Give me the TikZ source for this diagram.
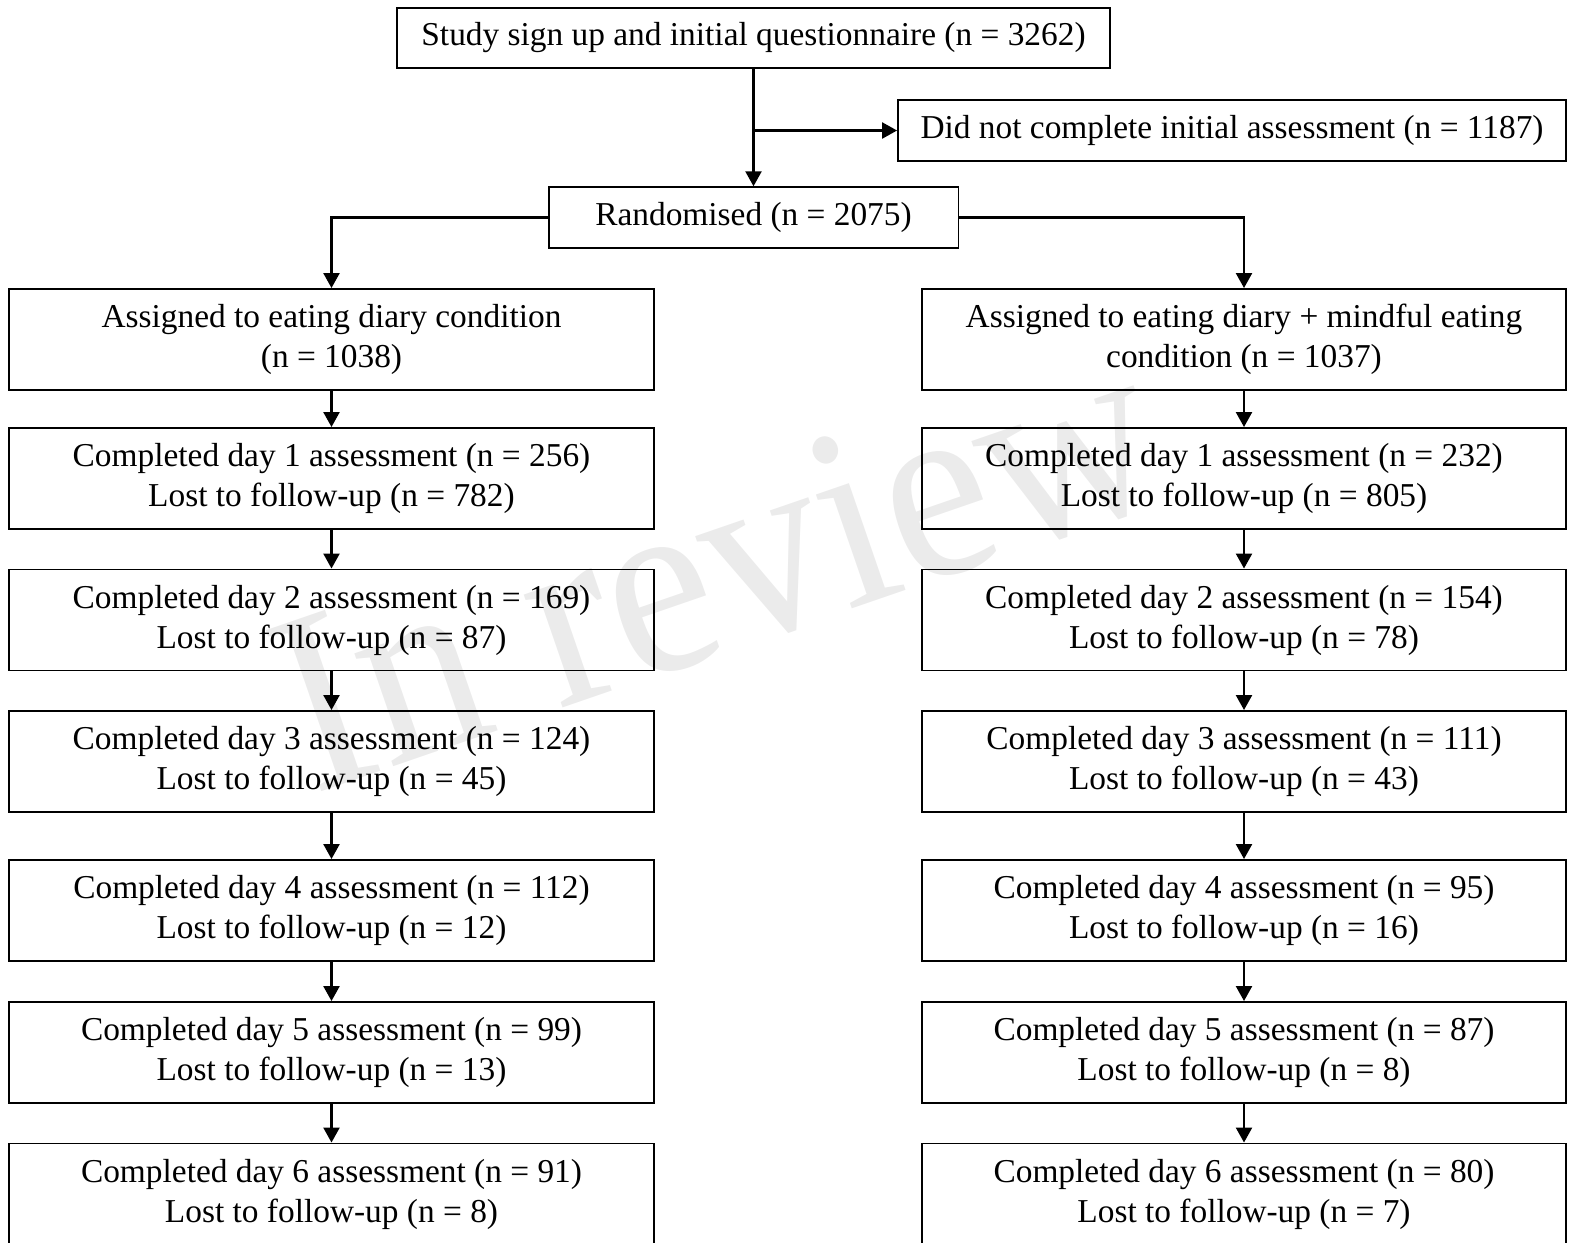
\documentclass[tikz,border=0pt]{standalone}
\usepackage{fontspec}
\setmainfont{Liberation Serif}
\usetikzlibrary{arrows.meta}
\tikzset{
  stage/.style={shape=rectangle, draw=black, line width=1.1pt, minimum width=12.9cm, minimum height=2.02cm, align=center, inner sep=2pt},
  single/.style={shape=rectangle, draw=black, line width=1.1pt, minimum height=1.21cm, inner sep=2pt},
}

\begin{document}
\begin{tikzpicture}[x=0.02cm, y=-0.02cm, font=\fontsize{19}{22.8}\selectfont, >={Triangle[length=8.5pt,width=9pt]}, line width=1.5pt]
    \useasboundingbox (0,0) rectangle (1572,1242);
    \node[rotate=19, xscale=0.92, text=black!8, font=\fontsize{148}{148}\selectfont] (stamp) at (716,566) {In review};

    \node[single, minimum width=14.28cm] (signup) at (753.5,38) {Study sign up and initial questionnaire (n = 3262)};
    \node[single, minimum width=13.36cm] (noassess) at (1232,130.5) {Did not complete initial assessment (n = 1187)};
    \node[single, minimum width=8.2cm] (rand) at (753.5,217.5) {Randomised (n = 2075)};

    \node[stage] (diary) at (331.5,339.5) {Assigned to eating diary condition\\(n = 1038)};
    \node[stage] (dayA1) at (331.5,478.5) {Completed day 1 assessment (n = 256)\\Lost to follow-up (n = 782)};
    \node[stage] (dayA2) at (331.5,620) {Completed day 2 assessment (n = 169)\\Lost to follow-up (n = 87)};
    \node[stage] (dayA3) at (331.5,761.5) {Completed day 3 assessment (n = 124)\\Lost to follow-up (n = 45)};
    \node[stage] (dayA4) at (331.5,910.5) {Completed day 4 assessment (n = 112)\\Lost to follow-up (n = 12)};
    \node[stage] (dayA5) at (331.5,1052.5) {Completed day 5 assessment (n = 99)\\Lost to follow-up (n = 13)};
    \node[stage] (dayA6) at (331.5,1194) {Completed day 6 assessment (n = 91)\\Lost to follow-up (n = 8)};

    \node[stage] (mindful) at (1244,339.5) {Assigned to eating diary + mindful eating\\condition (n = 1037)};
    \node[stage] (dayB1) at (1244,478.5) {Completed day 1 assessment (n = 232)\\Lost to follow-up (n = 805)};
    \node[stage] (dayB2) at (1244,620) {Completed day 2 assessment (n = 154)\\Lost to follow-up (n = 78)};
    \node[stage] (dayB3) at (1244,761.5) {Completed day 3 assessment (n = 111)\\Lost to follow-up (n = 43)};
    \node[stage] (dayB4) at (1244,910.5) {Completed day 4 assessment (n = 95)\\Lost to follow-up (n = 16)};
    \node[stage] (dayB5) at (1244,1052.5) {Completed day 5 assessment (n = 87)\\Lost to follow-up (n = 8)};
    \node[stage] (dayB6) at (1244,1194) {Completed day 6 assessment (n = 80)\\Lost to follow-up (n = 7)};

    \path [->] (signup) edge node {} (rand);
    \draw [->] (signup.south |- noassess.west) -- (noassess.west);
    \draw [->] (rand.west) -| (diary.north);
    \draw [->] (rand.east) -| (mindful.north);

    \path [->] (diary) edge node {} (dayA1);
    \path [->] (dayA1) edge node {} (dayA2);
    \path [->] (dayA2) edge node {} (dayA3);
    \path [->] (dayA3) edge node {} (dayA4);
    \path [->] (dayA4) edge node {} (dayA5);
    \path [->] (dayA5) edge node {} (dayA6);

    \path [->] (mindful) edge node {} (dayB1);
    \path [->] (dayB1) edge node {} (dayB2);
    \path [->] (dayB2) edge node {} (dayB3);
    \path [->] (dayB3) edge node {} (dayB4);
    \path [->] (dayB4) edge node {} (dayB5);
    \path [->] (dayB5) edge node {} (dayB6);
\end{tikzpicture}
\end{document}
